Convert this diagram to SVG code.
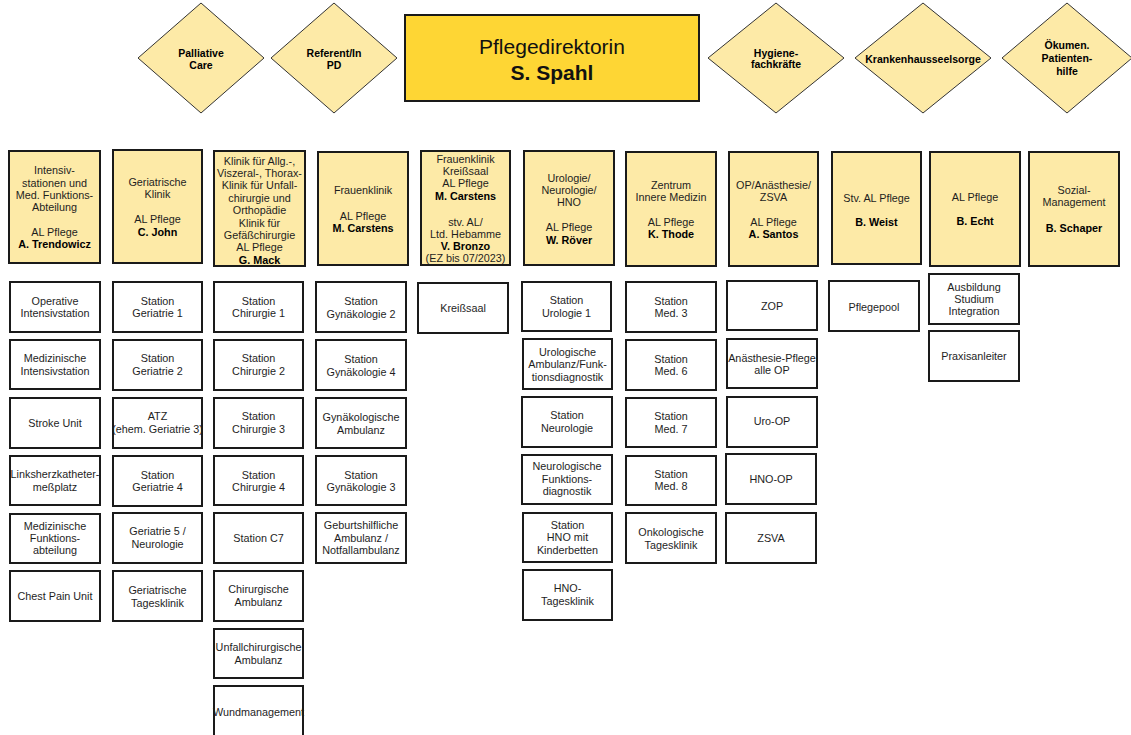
<svg xmlns="http://www.w3.org/2000/svg" width="1131" height="735" viewBox="0 0 1131 735">
<style>
text{font-family:"Liberation Sans",Arial,sans-serif;font-size:10.8px;fill:#1e1e1e;text-anchor:middle}
.b{font-weight:bold;fill:#000}
.d{fill:#FDEAA7;stroke:#333;stroke-width:1}
.dt{font-weight:bold;font-size:10.5px;fill:#000}
.h{fill:#FDEAA7;stroke:#1a1a1a;stroke-width:2}
.c{fill:#fff;stroke:#1a1a1a;stroke-width:2}
.top{fill:#FED634;stroke:#1a1a1a;stroke-width:2}
.big{font-size:21px;fill:#111}
</style>
<rect width="1131" height="735" fill="#fff"/>
<g id="connectors"/>
<!-- top row -->
<g id="palliative"><polygon class="d" points="201,3 264,58 201,113 138,58"/><text class="dt" x="201" y="57">Palliative</text><text class="dt" x="201" y="69">Care</text></g>
<g id="referent"><polygon class="d" points="334,3 397,58 334,113 271,58"/><text class="dt" x="334" y="57">Referent/In</text><text class="dt" x="334" y="69">PD</text></g>
<g id="pflegedirektorin"><rect class="top" x="405" y="15" width="294" height="86"/><text class="big" x="552" y="54">Pflegedirektorin</text><text class="big b" x="552" y="80">S. Spahl</text></g>
<g id="hygiene"><polygon class="d" points="776,3 844,58 776,113 708,58"/><text class="dt" x="776" y="57">Hygiene-</text><text class="dt" x="776" y="68">fachkräfte</text></g>
<g id="seelsorge"><polygon class="d" points="923,3 991,58 923,113 855,58"/><text class="dt" x="923" y="63">Krankenhausseelsorge</text></g>
<g id="oekumen"><polygon class="d" points="1067,3 1132,58 1067,113 1002,58"/><text class="dt" x="1067" y="49">Ökumen.</text><text class="dt" x="1067" y="62">Patienten-</text><text class="dt" x="1067" y="75">hilfe</text></g>
<!-- header boxes -->
<g id="h1"><rect class="h" x="9" y="151" width="91" height="112"/><text x="54.5" y="174">Intensiv-</text><text x="54.5" y="187">stationen und</text><text x="54.5" y="199">Med. Funktions-</text><text x="54.5" y="211">Abteilung</text><text x="54.5" y="236">AL Pflege</text><text class="b" x="54.5" y="248">A. Trendowicz</text></g>
<g id="h2"><rect class="h" x="113" y="150" width="89" height="113"/><text x="157.5" y="186">Geriatrische</text><text x="157.5" y="198">Klinik</text><text x="157.5" y="223">AL Pflege</text><text class="b" x="157.5" y="236">C. John</text></g>
<g id="h3"><rect class="h" x="214" y="151" width="91" height="115"/><text x="259.5" y="165">Klinik für Allg.-,</text><text x="259.5" y="177">Viszeral-, Thorax-</text><text x="259.5" y="189">Klinik für Unfall-</text><text x="259.5" y="202">chirurgie und</text><text x="259.5" y="214">Orthopädie</text><text x="259.5" y="227">Klinik für</text><text x="259.5" y="239">Gefäßchirurgie</text><text x="259.5" y="251">AL Pflege</text><text class="b" x="259.5" y="264">G. Mack</text></g>
<g id="h4"><rect class="h" x="318" y="152" width="90" height="113"/><text x="363" y="194">Frauenklinik</text><text x="363" y="220">AL Pflege</text><text class="b" x="363" y="232">M. Carstens</text></g>
<g id="h5"><rect class="h" x="421" y="151" width="89" height="114"/><text x="465.5" y="163">Frauenklinik</text><text x="465.5" y="175">Kreißsaal</text><text x="465.5" y="187">AL Pflege</text><text class="b" x="465.5" y="200">M. Carstens</text><text x="465.5" y="226">stv. AL/</text><text x="465.5" y="238">Ltd. Hebamme</text><text class="b" x="465.5" y="250">V. Bronzo</text><text x="465.5" y="262">(EZ bis 07/2023)</text></g>
<g id="h6"><rect class="h" x="524" y="151" width="90" height="114"/><text x="569" y="182">Urologie/</text><text x="569" y="194">Neurologie/</text><text x="569" y="206">HNO</text><text x="569" y="231">AL Pflege</text><text class="b" x="569" y="244">W. Röver</text></g>
<g id="h7"><rect class="h" x="626" y="152" width="90" height="114"/><text x="671" y="189">Zentrum</text><text x="671" y="201">Innere Medizin</text><text x="671" y="226">AL Pflege</text><text class="b" x="671" y="238">K. Thode</text></g>
<g id="h8"><rect class="h" x="729" y="152" width="89" height="114"/><text x="773.5" y="189">OP/Anästhesie/</text><text x="773.5" y="201">ZSVA</text><text x="773.5" y="226">AL Pflege</text><text class="b" x="773.5" y="238">A. Santos</text></g>
<g id="h9"><rect class="h" x="832" y="152" width="89" height="112"/><text x="876.5" y="202">Stv. AL Pflege</text><text class="b" x="876.5" y="226">B. Weist</text></g>
<g id="h10"><rect class="h" x="930" y="152" width="90" height="114"/><text x="975" y="201">AL Pflege</text><text class="b" x="975" y="225">B. Echt</text></g>
<g id="h11"><rect class="h" x="1029" y="152" width="90" height="114"/><text x="1074" y="194">Sozial-</text><text x="1074" y="206">Management</text><text class="b" x="1074" y="232">B. Schaper</text></g>
<!-- column 1 -->
<g id="c1r1"><rect class="c" x="10" y="282" width="90" height="50"/><text x="55" y="305">Operative</text><text x="55" y="317">Intensivstation</text></g>
<g id="c1r2"><rect class="c" x="10" y="340" width="90" height="49"/><text x="55" y="362">Medizinische</text><text x="55" y="375">Intensivstation</text></g>
<g id="c1r3"><rect class="c" x="10" y="398" width="90" height="50"/><text x="55" y="427">Stroke Unit</text></g>
<g id="c1r4"><rect class="c" x="10" y="456" width="90" height="49"/><text x="55" y="478">Linksherzkatheter-</text><text x="55" y="491">meßplatz</text></g>
<g id="c1r5"><rect class="c" x="10" y="514" width="90" height="49"/><text x="55" y="530">Medizinische</text><text x="55" y="542">Funktions-</text><text x="55" y="554">abteilung</text></g>
<g id="c1r6"><rect class="c" x="10" y="571" width="90" height="50"/><text x="55" y="600">Chest Pain Unit</text></g>
<!-- column 2 -->
<g id="c2r1"><rect class="c" x="113" y="282" width="89" height="50"/><text x="157.5" y="305">Station</text><text x="157.5" y="317">Geriatrie 1</text></g>
<g id="c2r2"><rect class="c" x="113" y="340" width="89" height="50"/><text x="157.5" y="362">Station</text><text x="157.5" y="375">Geriatrie 2</text></g>
<g id="c2r3"><rect class="c" x="113" y="398" width="89" height="50"/><text x="157.5" y="420">ATZ</text><text x="157.5" y="433">(ehem. Geriatrie 3)</text></g>
<g id="c2r4"><rect class="c" x="113" y="456" width="89" height="50"/><text x="157.5" y="479">Station</text><text x="157.5" y="491">Geriatrie 4</text></g>
<g id="c2r5"><rect class="c" x="113" y="513" width="89" height="50"/><text x="157.5" y="535">Geriatrie 5 /</text><text x="157.5" y="548">Neurologie</text></g>
<g id="c2r6"><rect class="c" x="113" y="571" width="89" height="50"/><text x="157.5" y="594">Geriatrische</text><text x="157.5" y="607">Tagesklinik</text></g>
<!-- column 3 -->
<g id="c3r1"><rect class="c" x="214" y="282" width="89" height="50"/><text x="258.5" y="305">Station</text><text x="258.5" y="317">Chirurgie 1</text></g>
<g id="c3r2"><rect class="c" x="214" y="340" width="89" height="50"/><text x="258.5" y="362">Station</text><text x="258.5" y="375">Chirurgie 2</text></g>
<g id="c3r3"><rect class="c" x="214" y="398" width="89" height="50"/><text x="258.5" y="420">Station</text><text x="258.5" y="433">Chirurgie 3</text></g>
<g id="c3r4"><rect class="c" x="214" y="456" width="89" height="49"/><text x="258.5" y="479">Station</text><text x="258.5" y="491">Chirurgie 4</text></g>
<g id="c3r5"><rect class="c" x="214" y="513" width="89" height="50"/><text x="258.5" y="542">Station C7</text></g>
<g id="c3r6"><rect class="c" x="214" y="571" width="89" height="50"/><text x="258.5" y="593">Chirurgische</text><text x="258.5" y="606">Ambulanz</text></g>
<g id="c3r7"><rect class="c" x="214" y="629" width="89" height="49"/><text x="258.5" y="651">Unfallchirurgische</text><text x="258.5" y="664">Ambulanz</text></g>
<g id="c3r8"><rect class="c" x="214" y="686" width="89" height="55"/><text x="258.5" y="716">Wundmanagement</text></g>
<!-- column 4 -->
<g id="c4r1"><rect class="c" x="316" y="282" width="90" height="50"/><text x="361" y="305">Station</text><text x="361" y="318">Gynäkologie 2</text></g>
<g id="c4r2"><rect class="c" x="316" y="340" width="90" height="50"/><text x="361" y="363">Station</text><text x="361" y="376">Gynäkologie 4</text></g>
<g id="c4r3"><rect class="c" x="316" y="398" width="90" height="50"/><text x="361" y="421">Gynäkologische</text><text x="361" y="434">Ambulanz</text></g>
<g id="c4r4"><rect class="c" x="316" y="456" width="90" height="49"/><text x="361" y="479">Station</text><text x="361" y="491">Gynäkologie 3</text></g>
<g id="c4r5"><rect class="c" x="316" y="513" width="90" height="50"/><text x="361" y="529">Geburtshilfliche</text><text x="361" y="542">Ambulanz /</text><text x="361" y="554">Notfallambulanz</text></g>
<!-- column 5 -->
<g id="c5r1"><rect class="c" x="418" y="283" width="90" height="50"/><text x="463" y="312">Kreißsaal</text></g>
<!-- column 6 -->
<g id="c6r1"><rect class="c" x="522" y="282" width="89" height="49"/><text x="566.5" y="304">Station</text><text x="566.5" y="317">Urologie 1</text></g>
<g id="c6r2"><rect class="c" x="523" y="339" width="89" height="50"/><text x="567.5" y="356">Urologische</text><text x="567.5" y="368">Ambulanz/Funk-</text><text x="567.5" y="381">tionsdiagnostik</text></g>
<g id="c6r3"><rect class="c" x="522" y="397" width="90" height="50"/><text x="567" y="419">Station</text><text x="567" y="432">Neurologie</text></g>
<g id="c6r4"><rect class="c" x="522" y="455" width="90" height="49"/><text x="567" y="470">Neurologische</text><text x="567" y="483">Funktions-</text><text x="567" y="495">diagnostik</text></g>
<g id="c6r5"><rect class="c" x="523" y="513" width="89" height="49"/><text x="567.5" y="529">Station</text><text x="567.5" y="541">HNO mit</text><text x="567.5" y="554">Kinderbetten</text></g>
<g id="c6r6"><rect class="c" x="523" y="570" width="89" height="50"/><text x="567.5" y="592">HNO-</text><text x="567.5" y="605">Tagesklinik</text></g>
<!-- column 7 -->
<g id="c7r1"><rect class="c" x="626" y="282" width="90" height="50"/><text x="671" y="305">Station</text><text x="671" y="317">Med. 3</text></g>
<g id="c7r2"><rect class="c" x="626" y="340" width="90" height="50"/><text x="671" y="363">Station</text><text x="671" y="375">Med. 6</text></g>
<g id="c7r3"><rect class="c" x="626" y="398" width="90" height="49"/><text x="671" y="420">Station</text><text x="671" y="433">Med. 7</text></g>
<g id="c7r4"><rect class="c" x="626" y="456" width="90" height="49"/><text x="671" y="478">Station</text><text x="671" y="490">Med. 8</text></g>
<g id="c7r5"><rect class="c" x="626" y="513" width="90" height="50"/><text x="671" y="536">Onkologische</text><text x="671" y="549">Tagesklinik</text></g>
<!-- column 8 -->
<g id="c8r1"><rect class="c" x="727" y="281" width="90" height="49"/><text x="772" y="310">ZOP</text></g>
<g id="c8r2"><rect class="c" x="727" y="339" width="90" height="49"/><text x="772" y="362">Anästhesie-Pflege</text><text x="772" y="374">alle OP</text></g>
<g id="c8r3"><rect class="c" x="727" y="397" width="90" height="50"/><text x="772" y="425">Uro-OP</text></g>
<g id="c8r4"><rect class="c" x="726" y="454" width="90" height="50"/><text x="771" y="483">HNO-OP</text></g>
<g id="c8r5"><rect class="c" x="726" y="513" width="90" height="50"/><text x="771" y="542">ZSVA</text></g>
<!-- column 9 -->
<g id="c9r1"><rect class="c" x="829" y="281" width="90" height="50"/><text x="874" y="311">Pflegepool</text></g>
<!-- column 10 -->
<g id="c10r1"><rect class="c" x="929" y="274" width="90" height="50"/><text x="974" y="291">Ausbildung</text><text x="974" y="303">Studium</text><text x="974" y="315">Integration</text></g>
<g id="c10r2"><rect class="c" x="929" y="331" width="90" height="50"/><text x="974" y="360">Praxisanleiter</text></g>
</svg>
